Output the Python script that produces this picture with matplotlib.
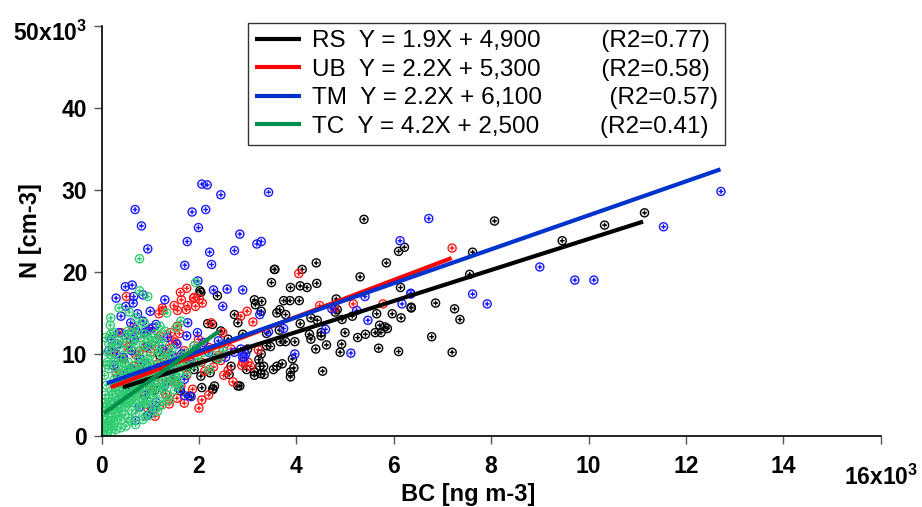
import matplotlib
matplotlib.use("Agg")
import matplotlib.pyplot as plt
from matplotlib.path import Path

plt.rcParams["font.family"] = ["Liberation Sans", "DejaVu Sans"]
plt.rcParams["mathtext.fontset"] = "custom"
plt.rcParams["mathtext.rm"] = "Liberation Sans"
plt.rcParams["mathtext.bf"] = "Liberation Sans:bold"

# BC in 10^3 ng m-3, N in 10^3 cm-3
rs_x = [4.41, 3.55, 3.49, 4.12, 3.88, 4.08, 4.22, 4.42, 3.74, 3.87, 4.06, 3.14, 3.29, 3.16, 3.28, 3.60,
        3.66, 3.78, 4.82, 4.84, 4.80, 5.31, 5.85, 6.14, 6.10, 6.22, 6.36, 5.97, 6.15, 5.65, 5.15, 4.94,
        5.71, 5.82, 5.87, 5.62, 5.74, 5.42, 5.26, 5.00, 4.51, 4.51, 4.27, 4.30, 3.97, 4.08, 4.30, 4.43,
        3.65, 3.39, 3.67, 3.78, 3.47, 3.39, 4.40, 4.62, 4.93, 4.90, 5.69, 6.10, 3.92, 3.71, 3.60, 3.53,
        3.95, 3.88, 3.88, 4.54, 3.33, 3.25, 3.34, 3.14, 3.14, 2.98, 3.28, 3.23, 3.27, 2.84,
        8.07, 7.62, 9.46, 10.33, 11.15, 7.56, 6.86, 7.25, 7.36, 6.78, 7.20, 6.36, 5.39, 3.56, 2.02,
        2.04, 2.38, 2.18, 2.28, 2.73, 2.80, 2.35, 2.23, 2.04, 2.28, 2.32, 2.06, 1.62, 2.80, 2.62, 2.66,
        1.90, 1.77, 1.81, 2.29, 0.60, 0.90, 1.10, 1.30, 1.50, 1.20, 2.50, 2.60, 2.90, 3.00, 2.45]
rs_y = [21.1, 20.3, 18.7, 20.3, 18.1, 18.3, 18.1, 18.6, 16.5, 16.5, 16.5, 16.6, 16.4, 16.0, 15.2, 15.0,
        15.4, 14.8, 16.7, 15.4, 15.1, 19.4, 21.1, 18.1, 22.5, 23.0, 15.6, 14.9, 14.4, 14.9, 14.6, 14.2,
        13.5, 13.3, 13.1, 12.6, 12.6, 12.4, 12.0, 12.6, 12.6, 12.2, 12.4, 11.8, 11.5, 13.7, 14.4, 14.1,
        12.9, 12.5, 11.5, 11.5, 10.9, 11.0, 10.6, 11.1, 11.2, 10.2, 10.7, 10.3, 9.4, 8.8, 8.5, 8.1,
        8.3, 7.8, 7.2, 7.9, 8.5, 8.5, 7.5, 7.4, 7.8, 8.1, 10.0, 9.3, 7.6, 6.1,
        26.2, 22.4, 23.8, 25.7, 27.2, 19.7, 16.2, 15.5, 14.2, 12.1, 10.2, 15.7, 26.4, 20.3, 17.7,
        17.5, 17.1, 13.7, 13.6, 14.8, 13.8, 9.4, 7.7, 7.3, 5.7, 6.1, 5.9, 5.5, 6.1, 7.5, 8.5,
        8.1, 8.5, 4.9, 5.7, 6.4, 7.2, 5.6, 8.4, 6.8, 9.8, 10.4, 11.8, 12.4, 10.6, 12.8]

ub_x = [7.20, 4.05, 4.48, 5.17, 5.78, 4.78, 2.99, 3.11, 3.06, 2.88, 3.01, 3.22, 1.75, 0.51, 1.64, 1.89,
        2.01, 2.07, 1.93, 1.25, 1.56, 1.62, 1.90, 1.77, 1.49, 1.18, 1.26, 1.74, 1.56, 1.42, 1.60, 1.52,
        2.49, 1.99, 1.90, 0.25, 0.52, 0.45, 0.67, 0.77, 1.01, 1.32, 1.29, 1.08, 1.01, 1.32, 1.39, 1.19,
        1.39, 2.06, 1.87, 1.63, 1.49, 1.75, 1.63, 0.88, 0.74, 2.51, 2.12, 2.90, 2.66, 2.40, 2.86, 2.25,
        0.30, 0.40, 0.55, 0.65, 0.70, 0.80, 0.90, 1.00, 1.10, 1.20, 1.35, 1.45, 1.55, 1.70, 1.80, 1.95,
        2.05, 2.20, 2.30, 2.45, 0.60, 0.85, 1.00, 1.15, 1.25, 1.40, 1.55, 1.70, 0.95, 1.10, 0.50, 2.60,
        2.70, 2.00, 2.20]
ub_y = [22.9, 19.8, 15.9, 16.1, 16.1, 15.6, 15.2, 13.9, 8.5, 8.6, 9.0, 10.5, 18.0, 17.0, 16.6, 16.8,
        16.7, 16.2, 15.8, 15.6, 15.3, 17.5, 16.9, 15.9, 15.9, 14.9, 15.3, 15.4, 13.4, 12.6, 12.5, 11.4,
        12.6, 11.8, 11.0, 10.2, 11.4, 9.4, 8.5, 10.3, 10.2, 10.1, 9.0, 7.3, 6.1, 5.1, 4.5, 3.7,
        3.9, 4.4, 5.7, 6.1, 6.5, 7.4, 8.5, 4.9, 5.7, 7.4, 7.9, 9.0, 10.6, 9.8, 14.6, 13.8,
        7.8, 12.6, 10.8, 13.2, 9.9, 12.0, 10.8, 13.0, 11.0, 12.2, 10.6, 11.6, 9.6, 10.4, 9.2, 10.4,
        9.0, 10.8, 8.4, 9.2, 7.0, 8.0, 7.0, 8.8, 6.8, 7.8, 4.6, 4.0, 3.4, 2.4, 6.2, 8.0,
        6.6, 3.4, 5.0]

tm_x = [2.06, 2.17, 2.45, 3.43, 0.69, 1.86, 2.14, 0.82, 1.99, 2.84, 3.19, 3.28, 1.76, 0.95, 2.22, 2.73,
        1.71, 2.26, 0.49, 0.63, 1.98, 2.30, 2.58, 2.90, 0.66, 0.85,
        6.13, 5.41, 6.17, 6.35, 5.24, 5.47, 4.73, 3.25, 2.96, 2.90, 4.60, 3.74, 3.43, 5.12, 3.97,
        6.72, 9.00, 9.72, 10.11, 7.62, 7.92, 6.35, 12.72, 11.54,
        0.50, 0.40, 0.74, 0.60, 0.36, 0.88, 1.12, 1.77, 1.97, 2.49, 0.95, 0.33, 0.67, 1.49, 1.70, 1.71,
        1.84, 1.12, 0.70, 0.95, 2.73, 2.93, 2.86, 0.33, 0.53, 0.77,
        0.25, 0.30, 0.45, 0.55, 0.62, 0.70, 0.80, 0.85, 0.95, 1.05, 1.15, 1.25, 1.35, 1.45, 1.55, 1.65,
        1.75, 1.85, 1.95, 2.10, 2.20, 2.40, 2.55, 0.40, 0.60, 0.75, 0.90, 1.00, 1.20, 1.30, 1.40, 1.60,
        0.50, 0.35, 0.90, 1.05, 0.20, 0.15, 0.65, 0.30, 1.00, 1.30]
tm_y = [30.7, 30.6, 29.4, 29.7, 27.6, 27.3, 27.6, 25.6, 25.4, 24.6, 23.4, 23.7, 23.7, 22.8, 22.4, 22.6,
        20.8, 20.9, 18.2, 18.4, 18.9, 17.8, 17.9, 17.8, 17.0, 17.2,
        23.8, 17.0, 16.1, 17.3, 15.3, 14.1, 15.5, 14.8, 10.0, 9.6, 13.0, 13.1, 12.7, 10.1, 10.0,
        26.5, 20.6, 19.0, 19.0, 17.3, 16.1, 17.4, 29.8, 25.5,
        15.8, 14.6, 14.9, 13.8, 12.6, 12.6, 13.6, 13.8, 12.6, 15.8, 11.0, 11.2, 11.8, 8.1, 6.9, 4.9,
        4.8, 4.1, 1.9, 2.5, 10.2, 9.6, 10.6, 6.5, 7.7, 3.5,
        8.6, 10.0, 9.6, 12.4, 10.4, 13.0, 9.4, 14.0, 12.8, 13.2, 11.8, 10.6, 12.0, 9.8, 11.2, 10.0,
        12.2, 9.0, 10.6, 11.4, 10.2, 11.6, 9.6, 7.0, 8.2, 7.4, 8.8, 6.6, 8.0, 6.2, 7.4, 5.8,
        5.4, 4.4, 5.0, 3.2, 11.8, 10.4, 16.2, 16.8, 15.2, 16.6]

tc_x = [0.78, 0.78, 1.93, 0.95, 0.19, 0.18, 0.36, 0.57, 0.71, 0.88, 0.19, 0.29, 0.12, 0.12, 0.26, 1.34,
        1.63, 1.53, 0.95, 1.15, 2.21, 1.97, 2.40,
        0.02, 0.05, 0.08, 0.10, 0.12, 0.15, 0.18, 0.20, 0.22, 0.25, 0.28, 0.30, 0.32, 0.35, 0.38, 0.40,
        0.42, 0.45, 0.48, 0.50, 0.52, 0.55, 0.58, 0.60, 0.62, 0.65, 0.68, 0.70, 0.72, 0.75, 0.78, 0.80,
        0.82, 0.85, 0.88, 0.90, 0.92, 0.95, 0.98, 1.00, 1.03, 1.06, 1.10, 1.13, 1.16, 1.20, 1.24, 1.28,
        1.32, 1.36, 1.40, 1.45, 1.50, 1.55, 1.60, 1.70, 1.80, 0.05, 0.10, 0.15, 0.20, 0.10, 0.25, 0.30,
        0.15, 0.35, 0.40, 0.20, 0.45, 0.50, 0.55, 0.60, 0.65, 0.70, 0.75, 0.80, 0.90, 1.00, 1.05, 1.15,
        1.25, 0.30, 0.40, 0.50, 0.60, 0.70, 0.85, 0.95, 0.35, 0.45, 0.55, 0.02, 0.08, 0.06, 0.12, 0.25,
        0.35, 0.50, 0.65, 0.80, 1.10, 1.30, 0.90, 1.10, 1.20, 1.35, 1.50, 1.60,
        0.05, 0.10, 0.15, 0.20, 0.25, 0.30, 0.35, 0.40, 0.45, 0.50, 0.55, 0.60, 0.65, 0.70, 0.75, 0.80,
        0.85, 0.90, 0.95, 1.00, 1.05, 1.10, 1.15, 1.20, 1.25, 1.30, 1.35, 1.40, 1.45, 1.50, 1.55, 1.60,
        1.65, 1.75, 1.85, 1.90, 2.00, 2.10, 2.30, 2.50, 0.03, 0.07, 0.12, 0.18, 0.22, 0.28, 0.32, 0.38,
        0.42, 0.48, 0.55, 0.62, 0.68, 0.72, 0.78, 0.85, 0.92, 0.98, 1.02, 0.70, 0.60, 0.50, 0.40, 0.30,
        0.20, 0.85, 1.00, 1.15, 1.25, 1.40, 0.08, 0.15, 0.25, 0.45, 0.55, 0.65, 0.75, 0.90, 1.00, 1.20]
tc_y = [21.6, 17.7, 18.7, 17.0, 14.4, 13.5, 15.6, 15.1, 14.4, 13.8, 12.4, 11.2, 10.2, 8.7, 9.2, 15.0,
        14.0, 13.2, 11.8, 11.8, 8.1, 9.8, 9.4,
        0.3, 0.6, 1.0, 0.5, 1.4, 0.9, 1.8, 1.2, 2.3, 1.6, 2.8, 2.0, 3.4, 2.5, 3.9, 1.9,
        3.0, 4.4, 2.6, 3.6, 5.0, 2.2, 4.2, 5.6, 3.1, 4.8, 6.2, 2.8, 3.9, 5.4, 6.8, 3.5,
        4.6, 6.0, 7.3, 4.0, 5.2, 6.6, 8.0, 4.6, 5.8, 7.1, 8.6, 5.3, 6.4, 7.7, 9.2, 6.0,
        7.1, 8.4, 10.0, 6.8, 8.0, 9.2, 7.5, 8.8, 10.2, 2.5, 3.5, 4.6, 5.5, 6.2, 6.8, 7.5,
        8.2, 8.6, 9.4, 9.9, 10.3, 8.0, 9.0, 10.6, 7.6, 11.2, 9.6, 10.4, 11.0, 9.8, 11.6, 10.6,
        11.4, 5.2, 6.3, 7.0, 7.8, 8.6, 9.0, 9.4, 4.0, 5.8, 6.6, 4.0, 5.0, 7.4, 9.0, 10.8,
        11.6, 12.2, 12.6, 12.0, 12.4, 12.8, 2.4, 3.4, 4.2, 5.0, 5.6, 6.2,
        1.5, 2.0, 2.8, 3.2, 4.0, 3.0, 5.5, 4.8, 6.8, 5.2, 7.6, 6.4, 8.2, 5.0, 7.0, 8.2,
        4.2, 6.8, 7.8, 8.8, 5.0, 6.2, 7.2, 10.2, 5.8, 9.6, 6.6, 8.8, 10.6, 7.2, 6.4, 8.6,
        9.8, 7.6, 8.6, 11.0, 9.0, 10.2, 9.8, 10.4, 2.0, 3.0, 3.8, 4.2, 5.0, 6.0, 6.4, 7.2,
        8.0, 8.8, 4.0, 4.4, 5.6, 6.6, 5.8, 7.0, 8.4, 6.0, 3.8, 1.4, 1.8, 1.2, 1.0, 0.8,
        0.4, 2.0, 2.6, 3.0, 3.8, 4.4, 12.0, 11.2, 12.6, 11.4, 12.8, 11.6, 13.2, 12.4, 11.2, 13.4]

# fit lines as drawn (slope, intercept, x range), legend text as printed
sites = ["RS", "UB", "TM", "TC"]
fit_slope = [1.89, 2.25, 2.07, 4.23]
fit_icept = [5.11, 5.51, 6.19, 2.56]
fit_xmin = [0.44, 0.19, 0.11, 0.05]
fit_xmax = [11.12, 7.19, 12.71, 2.42]
legend_eq = ["Y = 1.9X + 4,900", "Y = 2.2X + 5,300", "Y = 2.2X + 6,100", "Y = 4.2X + 2,500"]
legend_r2 = ["0.77", "0.58", "0.57", "0.41"]
legend_gap = ["         ", "         ", "          ", "         "]

point_colors = ["black", "#ff1a1a", "#1a1aff", "#2ecc71"]
line_colors = ["black", "#ff0000", "#0033cc", "#008f4c"]

xs = [rs_x, ub_x, tm_x, tc_x]
ys = [rs_y, ub_y, tm_y, tc_y]

# circle with a plus inside
oplus = Path.make_compound_path(
    Path.unit_circle(),
    Path([(-0.6, 0), (0.6, 0), (0, -0.6), (0, 0.6)],
         [Path.MOVETO, Path.LINETO, Path.MOVETO, Path.LINETO]),
)

fig = plt.figure(figsize=(9.22, 5.07), dpi=100)
ax = fig.add_axes([0.1101, 0.140, 0.8451, 0.8093])

for x, y, c in zip(xs, ys, point_colors):
    ax.scatter(x, y, marker=oplus, s=34, facecolors="none", edgecolors=c, linewidths=1.0, zorder=2)

for i, site in enumerate(sites):
    x0, x1 = fit_xmin[i], fit_xmax[i]
    lx = [x0, x1]
    ly = [fit_slope[i] * x0 + fit_icept[i], fit_slope[i] * x1 + fit_icept[i]]
    label = f"{site}  {legend_eq[i]}{legend_gap[i]}(R2={legend_r2[i]})"
    ax.plot(lx, ly, color=line_colors[i], lw=3, solid_capstyle="butt", zorder=3 + i, label=label)

ax.set_xlim(0, 16)
ax.set_ylim(0, 50)
ax.spines["top"].set_visible(False)
ax.spines["right"].set_visible(False)
for s in ["left", "bottom"]:
    ax.spines[s].set_linewidth(1.2)

ax.set_xticks(range(0, 17, 2))
ax.set_xticklabels([str(v) for v in range(0, 15, 2)] + [""])
ax.set_yticks(range(0, 51, 10))
ax.set_yticklabels([str(v) for v in range(0, 41, 10)] + [""])
ax.tick_params(direction="out", length=5.8, width=1, color="#555555", labelsize=16.5)
ax.tick_params(axis="x", pad=8)
ax.tick_params(axis="y", pad=4.5)
for lab in ax.get_xticklabels() + ax.get_yticklabels():
    lab.set_fontweight("bold")

ax.annotate(r"16x10$^{\mathbf{3}}$", xy=(16, 0), xytext=(0, -35), textcoords="offset points",
            ha="center", va="baseline", fontsize=16.5, fontweight="bold", annotation_clip=False)
ax.annotate(r"50x10$^{\mathbf{3}}$", xy=(0, 50), xytext=(-10.4, -11), textcoords="offset points",
            ha="right", va="baseline", fontsize=16.5, fontweight="bold", annotation_clip=False)

ax.set_xlabel("BC [ng m-3]", fontsize=17, fontweight="bold")
ax.set_ylabel("N [cm-3]", fontsize=17, fontweight="bold")
ax.xaxis.set_label_coords(0.47, -0.115)
ax.yaxis.set_label_coords(-0.077, 0.5)

leg = ax.legend(loc="upper left", bbox_to_anchor=(0.188, 1.007), borderaxespad=0, fontsize=17.5,
                frameon=True, fancybox=False, edgecolor="black", handlelength=1.9, handletextpad=0.42,
                labelspacing=0.27, borderpad=0.3)
leg.get_frame().set_linewidth(1.0)
for h in leg.get_lines():
    h.set_linewidth(3)

fig.savefig("out.png", dpi=100)
